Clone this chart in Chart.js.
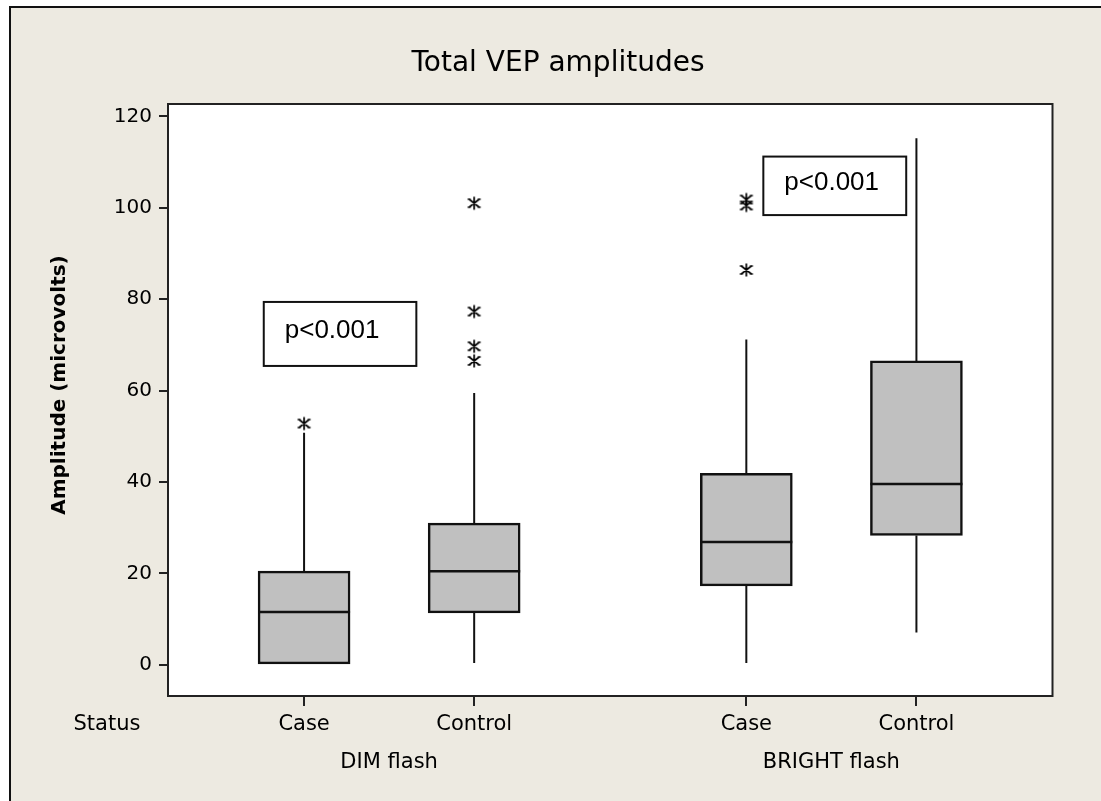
<!DOCTYPE html>
<html>
<head>
<meta charset="utf-8">
<script src="https://cdn.jsdelivr.net/npm/chart.js@4/dist/chart.umd.min.js"></script>
<style>
  html, body { margin: 0; padding: 0; background: #fff; }
  canvas { display: block; }
</style>
</head>
<body>
<canvas id="vepChart" width="1101" height="801"></canvas>
<script>
// x positions of the four boxes (groups are set apart)
const boxPositions = [1, 2, 3.6, 4.6];
const statusLabels = ['Case', 'Control', 'Case', 'Control'];
const groupPositions = [1.5, 4.1];
const groupLabels = ['DIM flash', 'BRIGHT flash'];
const yTicks = [0, 20, 40, 60, 80, 100, 120];

// box statistics (microvolts)
const whiskerLow = [0, 0.4, 0.4, 7.1];
const q1 = [0, 11.4, 17.3, 28.3];
const median = [11.6, 20.5, 26.9, 39.6];
const q3 = [20.5, 31.0, 41.9, 66.5];
const whiskerHigh = [50.8, 59.5, 71.2, 115.2];

// outliers (asterisks)
const outlierX = [1, 2, 2, 2, 2, 3.6, 3.6, 3.6];
const outlierY = [52.8, 101.0, 77.3, 69.7, 66.5, 101.8, 100.5, 86.4];

// p-value boxes: [x from, x to, y top, y bottom]
const pBoxes = [
  { text: 'p<0.001', x0: 0.763, x1: 1.66, yTop: 79.4, yBottom: 65.4 },
  { text: 'p<0.001', x0: 3.70, x1: 4.54, yTop: 111.2, yBottom: 98.4 }
];

const BEIGE = '#EDEAE1';
const BOX_GREY = '#C0C0C0';

function asteriskStyle() {
  const c = document.createElement('canvas');
  c.width = 16; c.height = 16;
  const g = c.getContext('2d');
  g.strokeStyle = '#000';
  g.lineWidth = 1.7;
  g.beginPath();
  g.moveTo(8, 1.5); g.lineTo(8, 14.5);
  g.moveTo(3, 4); g.lineTo(13, 12);
  g.moveTo(13, 4); g.lineTo(3, 12);
  g.moveTo(1.5, 4); g.lineTo(4.5, 4);
  g.moveTo(11.5, 4); g.lineTo(14.5, 4);
  g.moveTo(1.5, 12); g.lineTo(4.5, 12);
  g.moveTo(11.5, 12); g.lineTo(14.5, 12);
  g.stroke();
  return c;
}

const boxData = boxPositions.map((x, i) => ({ x: x, y: [q1[i], q3[i]] }));
const medianData = boxPositions.map((x, i) => ({ x: x, y: median[i] }));
const whiskerData = [];
boxPositions.forEach((x, i) => {
  whiskerData.push({ x: x, y: whiskerLow[i] }, { x: x, y: q1[i] }, { x: x, y: null });
  whiskerData.push({ x: x, y: q3[i] }, { x: x, y: whiskerHigh[i] }, { x: x, y: null });
});
const outlierData = outlierX.map((x, i) => ({ x: x, y: outlierY[i] }));

const framePlugin = {
  id: 'frame',
  beforeDraw(chart) {
    const ctx = chart.ctx;
    const a = chart.chartArea;
    ctx.save();
    ctx.fillStyle = '#fff';
    ctx.fillRect(0, 0, chart.width, chart.height);
    ctx.fillStyle = BEIGE;
    ctx.fillRect(10, 7, chart.width - 10, chart.height - 7);
    ctx.strokeStyle = '#111';
    ctx.lineWidth = 2;
    ctx.beginPath();
    ctx.moveTo(10, chart.height);
    ctx.lineTo(10, 7);
    ctx.lineTo(chart.width, 7);
    ctx.stroke();
    ctx.fillStyle = '#fff';
    ctx.fillRect(a.left, a.top, a.right - a.left, a.bottom - a.top);
    ctx.restore();
  },
  afterDraw(chart) {
    const ctx = chart.ctx;
    const a = chart.chartArea;
    const xs = chart.scales.x;
    const ys = chart.scales.y;
    ctx.save();
    ctx.strokeStyle = '#222';
    ctx.lineWidth = 2;
    ctx.strokeRect(a.left, a.top, a.right - a.left, a.bottom - a.top);

    // chart title
    ctx.fillStyle = '#000';
    ctx.font = '28px "DejaVu Sans", sans-serif';
    ctx.textAlign = 'center';
    ctx.textBaseline = 'middle';
    ctx.fillText('Total VEP amplitudes', 558, 64);

    // y axis title
    ctx.save();
    ctx.translate(60, 385);
    ctx.rotate(-Math.PI / 2);
    ctx.font = 'bold 20px "DejaVu Sans", sans-serif';
    ctx.fillText('Amplitude (microvolts)', 0, 0);
    ctx.restore();

    // p-value annotations
    ctx.font = '26px "Liberation Sans", Arial, sans-serif';
    ctx.textAlign = 'left';
    pBoxes.forEach(b => {
      const left = xs.getPixelForValue(b.x0);
      const right = xs.getPixelForValue(b.x1);
      const top = ys.getPixelForValue(b.yTop);
      const bottom = ys.getPixelForValue(b.yBottom);
      ctx.fillStyle = '#fff';
      ctx.fillRect(left, top, right - left, bottom - top);
      ctx.strokeStyle = '#111';
      ctx.strokeRect(left, top, right - left, bottom - top);
      ctx.fillStyle = '#000';
      ctx.fillText(b.text, left + 21, (top + bottom) / 2 - 3);
    });

    // "Status" row label
    ctx.font = '21px "DejaVu Sans", sans-serif';
    ctx.textAlign = 'center';
    ctx.fillText('Status', a.left - 61, a.bottom + 29);
    ctx.restore();
  }
};

const ctx = document.getElementById('vepChart').getContext('2d');
new Chart(ctx, {
  type: 'bar',
  data: {
    datasets: [
      {
        type: 'bar',
        data: boxData,
        backgroundColor: BOX_GREY,
        borderColor: '#111',
        borderWidth: 2.5,
        borderSkipped: false,
        barThickness: 92,
        grouped: false,
        order: 3
      },
      {
        type: 'line',
        data: whiskerData,
        borderColor: '#111',
        borderWidth: 2,
        pointRadius: 0,
        spanGaps: false,
        order: 4
      },
      {
        type: 'scatter',
        data: medianData,
        pointStyle: 'line',
        pointRadius: 46,
        borderColor: '#111',
        borderWidth: 2.5,
        order: 1
      },
      {
        type: 'scatter',
        data: outlierData,
        pointStyle: asteriskStyle(),
        order: 0
      }
    ]
  },
  options: {
    responsive: false,
    animation: false,
    layout: { padding: { left: 0, right: 46, top: 104, bottom: 0 } },
    plugins: {
      legend: { display: false },
      tooltip: { enabled: false },
      title: { display: false }
    },
    scales: {
      x: {
        type: 'linear',
        min: 0.2,
        max: 5.4,
        offset: false,
        position: 'bottom',
        weight: 0,
        afterBuildTicks: scale => { scale.ticks = boxPositions.map(v => ({ value: v })); },
        afterFit: scale => { scale.height = 49; },
        ticks: {
          callback: (value, index) => statusLabels[index],
          color: '#000',
          font: { family: '"DejaVu Sans", sans-serif', size: 21 },
          padding: 6,
          maxRotation: 0,
          autoSkip: false
        },
        grid: { display: true, offset: false, drawOnChartArea: false, drawTicks: true, tickLength: 10, color: '#222', lineWidth: 2 },
        border: { display: false }
      },
      x2: {
        type: 'linear',
        min: 0.2,
        max: 5.4,
        offset: false,
        position: 'bottom',
        weight: 1,
        afterBuildTicks: scale => { scale.ticks = groupPositions.map(v => ({ value: v })); },
        afterFit: scale => { scale.height = 56; },
        ticks: {
          callback: (value, index) => groupLabels[index],
          color: '#000',
          font: { family: '"DejaVu Sans", sans-serif', size: 21 },
          padding: 5,
          maxRotation: 0,
          autoSkip: false
        },
        grid: { display: false, offset: false, drawTicks: false, tickLength: 0 },
        border: { display: false }
      },
      y: {
        type: 'linear',
        min: -6.8,
        max: 122.7,
        afterBuildTicks: scale => { scale.ticks = yTicks.map(v => ({ value: v })); },
        afterFit: scale => { scale.width = 168; },
        ticks: {
          color: '#000',
          font: { family: '"DejaVu Sans", sans-serif', size: 20 },
          padding: 7
        },
        grid: { display: true, drawOnChartArea: false, drawTicks: true, tickLength: 9, color: '#222', lineWidth: 2 },
        border: { display: false }
      }
    }
  },
  plugins: [framePlugin]
});
</script>
</body>
</html>
